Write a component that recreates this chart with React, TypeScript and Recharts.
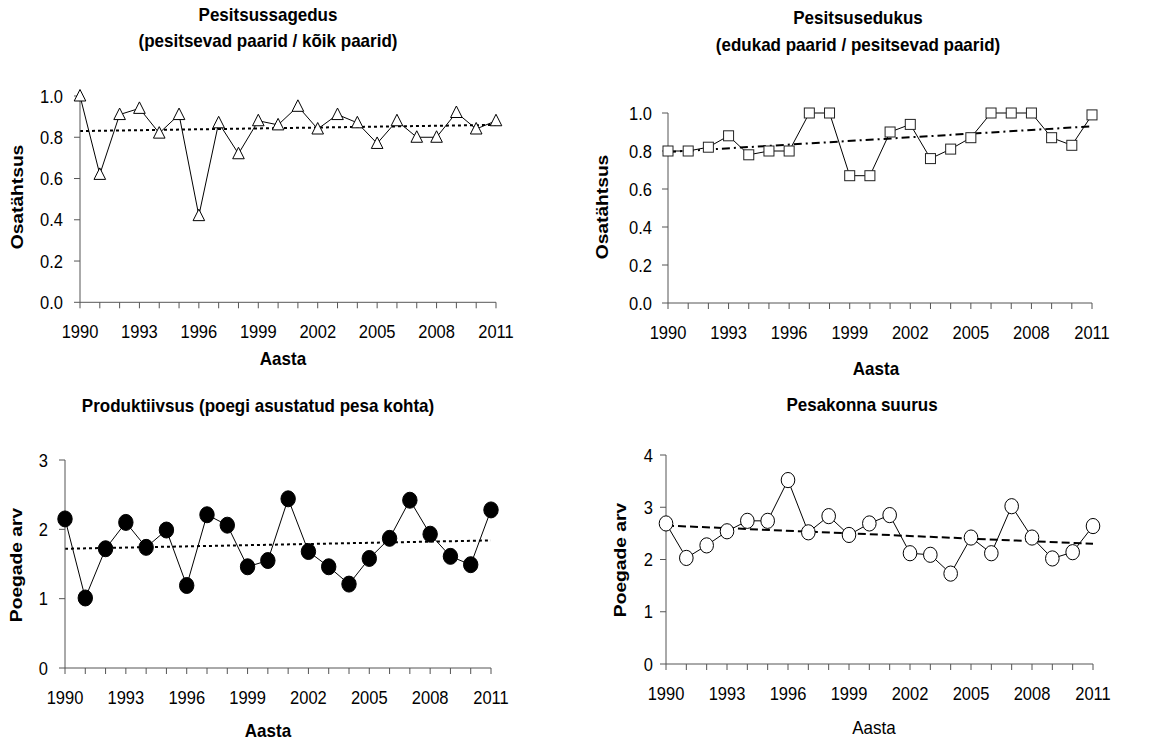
import React from 'react';
import { LineChart, Line, XAxis, YAxis } from 'recharts';

// Years of the study period and which of them get a printed label
const years = [1990, 1991, 1992, 1993, 1994, 1995, 1996, 1997, 1998, 1999, 2000, 2001, 2002, 2003, 2004, 2005, 2006, 2007, 2008, 2009, 2010, 2011];
const labelledYears = [1990, 1993, 1996, 1999, 2002, 2005, 2008, 2011];

// Pesitsussagedus (pesitsevad paarid / kõik paarid)
const nestingRate = [1.0, 0.62, 0.91, 0.94, 0.82, 0.91, 0.42, 0.87, 0.72, 0.88, 0.86, 0.95, 0.84, 0.91, 0.87, 0.77, 0.88, 0.8, 0.8, 0.92, 0.84, 0.88];
const nestingTrend = [0.83, 0.86];

// Pesitsusedukus (edukad paarid / pesitsevad paarid)
const successRate = [0.8, 0.8, 0.82, 0.88, 0.78, 0.8, 0.8, 1.0, 1.0, 0.67, 0.67, 0.9, 0.94, 0.76, 0.81, 0.87, 1.0, 1.0, 1.0, 0.87, 0.83, 0.99];
const successTrend = [0.795, 0.93];

// Produktiivsus (poegi asustatud pesa kohta)
const productivity = [2.15, 1.01, 1.72, 2.1, 1.74, 1.99, 1.19, 2.21, 2.06, 1.46, 1.55, 2.44, 1.68, 1.46, 1.21, 1.58, 1.87, 2.42, 1.93, 1.61, 1.49, 2.28];
const productivityTrend = [1.72, 1.84];

// Pesakonna suurus
const broodSize = [2.69, 2.03, 2.27, 2.54, 2.74, 2.74, 3.52, 2.52, 2.83, 2.47, 2.69, 2.85, 2.12, 2.09, 1.73, 2.42, 2.12, 3.02, 2.42, 2.02, 2.14, 2.64];
const broodTrend = [2.65, 2.3];

const shareTicks = [0, 0.2, 0.4, 0.6, 0.8, 1.0];
const prodTicks = [0, 1, 2, 3];
const broodTicks = [0, 1, 2, 3, 4];

const FONT = '"Liberation Sans", Arial, Helvetica, sans-serif';
const AXIS = '#555';
const STRETCH = 1.13;

const toRows = (vals: number[]) => years.map((year, i) => ({ year, v: vals[i] }));
const trendRows = (t: number[]) => [
  { year: years[0], v: t[0] },
  { year: years[years.length - 1], v: t[1] },
];

type Box = { left: number; right: number; top: number; bottom: number };

const triangleDot = (p: any) => {
  const { cx, cy, index } = p;
  if (cx == null || cy == null) return <g key={`t${index}`} />;
  const pts = `${cx},${cy - 6.5} ${cx - 5.8},${cy + 5} ${cx + 5.8},${cy + 5}`;
  return <polygon key={`t${index}`} points={pts} fill="#fff" stroke="#000" strokeWidth={1} />;
};

const squareDot = (p: any) => {
  const { cx, cy, index } = p;
  if (cx == null || cy == null) return <g key={`s${index}`} />;
  return <rect key={`s${index}`} x={cx - 5} y={cy - 5} width={10} height={10} fill="#fff" stroke="#222" strokeWidth={1} />;
};

const filledDot = (p: any) => {
  const { cx, cy, index } = p;
  if (cx == null || cy == null) return <g key={`f${index}`} />;
  return <ellipse key={`f${index}`} cx={cx} cy={cy} rx={7.2} ry={8} fill="#000" stroke="#000" strokeWidth={1} />;
};

const openDot = (p: any) => {
  const { cx, cy, index } = p;
  if (cx == null || cy == null) return <g key={`o${index}`} />;
  return <ellipse key={`o${index}`} cx={cx} cy={cy} rx={6.8} ry={7.6} fill="#fff" stroke="#000" strokeWidth={1} />;
};

const XTick = (props: any) => {
  const { x, y, payload } = props;
  if (!labelledYears.includes(payload.value)) return <g />;
  return (
    <text
      transform={`translate(${x},${y + 30}) scale(1,${STRETCH})`}
      textAnchor="middle"
      fontSize={16.5}
      fontFamily={FONT}
      fill="#000"
    >
      {payload.value}
    </text>
  );
};

const makeYTick = (fmt: (v: number) => string, gap: number) => (props: any) => {
  const { x, y, payload } = props;
  return (
    <text
      transform={`translate(${x + 6 - gap},${y}) scale(1,${STRETCH})`}
      textAnchor="end"
      dy="0.36em"
      fontSize={16.5}
      fontFamily={FONT}
      fill="#000"
    >
      {fmt(payload.value)}
    </text>
  );
};

type PanelProps = {
  values: number[];
  trend: number[];
  box: Box;
  yDomain: [number, number];
  yTicks: number[];
  fmt: (v: number) => string;
  yGap: number;
  dot: (p: any) => React.ReactElement;
  dash: string;
};

function Panel({ values, trend, box, yDomain, yTicks, fmt, yGap, dot, dash }: PanelProps) {
  const YW = 60;
  const TOP = 20;
  const RIGHT = 40;
  const XH = 45;
  const plotW = box.right - box.left;
  const plotH = box.bottom - box.top;
  return (
    <div style={{ position: 'absolute', left: box.left - YW, top: box.top - TOP }}>
      <LineChart
        width={plotW + YW + RIGHT}
        height={plotH + TOP + XH}
        margin={{ top: TOP, right: RIGHT, left: 0, bottom: 0 }}
      >
        <XAxis
          type="number"
          dataKey="year"
          domain={[1990, 2011]}
          ticks={years}
          interval={0}
          height={XH}
          tickSize={6}
          tickMargin={0}
          axisLine={{ stroke: AXIS, strokeWidth: 1 }}
          tickLine={{ stroke: AXIS, strokeWidth: 1 }}
          tick={<XTick />}
        />
        <YAxis
          type="number"
          domain={yDomain}
          ticks={yTicks}
          interval={0}
          width={YW}
          tickSize={6}
          tickMargin={0}
          axisLine={{ stroke: AXIS, strokeWidth: 1 }}
          tickLine={{ stroke: AXIS, strokeWidth: 1 }}
          tick={makeYTick(fmt, yGap)}
        />
        <Line
          data={trendRows(trend)}
          dataKey="v"
          stroke="#000"
          strokeWidth={2}
          strokeDasharray={dash}
          dot={false}
          activeDot={false}
          isAnimationActive={false}
        />
        <Line
          data={toRows(values)}
          dataKey="v"
          stroke="#000"
          strokeWidth={1}
          dot={dot}
          activeDot={false}
          isAnimationActive={false}
        />
      </LineChart>
    </div>
  );
}

const Txt = ({ x, y, children, bold = true, size = 17 }: { x: number; y: number; children: React.ReactNode; bold?: boolean; size?: number }) => (
  <div
    style={{
      position: 'absolute',
      left: x,
      top: y,
      transform: `translate(-50%, -50%) scale(1, ${STRETCH})`,
      whiteSpace: 'nowrap',
      fontFamily: FONT,
      fontSize: size,
      fontWeight: bold ? 'bold' : 'normal',
      lineHeight: 1,
      color: '#000',
    }}
  >
    {children}
  </div>
);

const VTxt = ({ x, y, children }: { x: number; y: number; children: React.ReactNode }) => (
  <div
    style={{
      position: 'absolute',
      left: x,
      top: y,
      transform: `translate(-50%, -50%) rotate(-90deg) scale(${STRETCH}, 1)`,
      whiteSpace: 'nowrap',
      fontFamily: FONT,
      fontSize: 17,
      fontWeight: 'bold',
      lineHeight: 1,
      color: '#000',
    }}
  >
    {children}
  </div>
);

const oneDecimal = (v: number) => v.toFixed(1);
const integer = (v: number) => String(v);

export default function App() {
  return (
    <div style={{ position: 'fixed', left: 0, top: 0, width: 1173, height: 744, background: '#fff', overflow: 'hidden' }}>
      {/* Pesitsussagedus */}
      <Txt x={268} y={15}>Pesitsussagedus</Txt>
      <Txt x={268} y={41}>(pesitsevad paarid / kõik paarid)</Txt>
      <VTxt x={17} y={197}>Osatähtsus</VTxt>
      <Txt x={283} y={359}>Aasta</Txt>
      <Panel
        values={nestingRate}
        trend={nestingTrend}
        box={{ left: 80, right: 496, top: 95.7, bottom: 302 }}
        yDomain={[0, 1]}
        yTicks={shareTicks}
        fmt={oneDecimal}
        yGap={17}
        dot={triangleDot}
        dash="3 3"
      />

      {/* Pesitsusedukus */}
      <Txt x={858} y={18}>Pesitsusedukus</Txt>
      <Txt x={858} y={45}>(edukad paarid / pesitsevad paarid)</Txt>
      <VTxt x={602} y={207}>Osatähtsus</VTxt>
      <Txt x={876} y={369}>Aasta</Txt>
      <Panel
        values={successRate}
        trend={successTrend}
        box={{ left: 668, right: 1092, top: 112.5, bottom: 302.5 }}
        yDomain={[0, 1]}
        yTicks={shareTicks}
        fmt={oneDecimal}
        yGap={16}
        dot={squareDot}
        dash="8 4 2 4"
      />

      {/* Produktiivsus */}
      <Txt x={258} y={406}>Produktiivsus (poegi asustatud pesa kohta)</Txt>
      <VTxt x={16} y={565}>Poegade arv</VTxt>
      <Txt x={268} y={731}>Aasta</Txt>
      <Panel
        values={productivity}
        trend={productivityTrend}
        box={{ left: 65, right: 491, top: 460, bottom: 668 }}
        yDomain={[0, 3]}
        yTicks={prodTicks}
        fmt={integer}
        yGap={17}
        dot={filledDot}
        dash="3 3"
      />

      {/* Pesakonna suurus */}
      <Txt x={862} y={405}>Pesakonna suurus</Txt>
      <VTxt x={620} y={560}>Poegade arv</VTxt>
      <Txt x={874} y={728} bold={false}>Aasta</Txt>
      <Panel
        values={broodSize}
        trend={broodTrend}
        box={{ left: 666, right: 1093, top: 455, bottom: 664 }}
        yDomain={[0, 4]}
        yTicks={broodTicks}
        fmt={integer}
        yGap={13}
        dot={openDot}
        dash="8 4"
      />
    </div>
  );
}
